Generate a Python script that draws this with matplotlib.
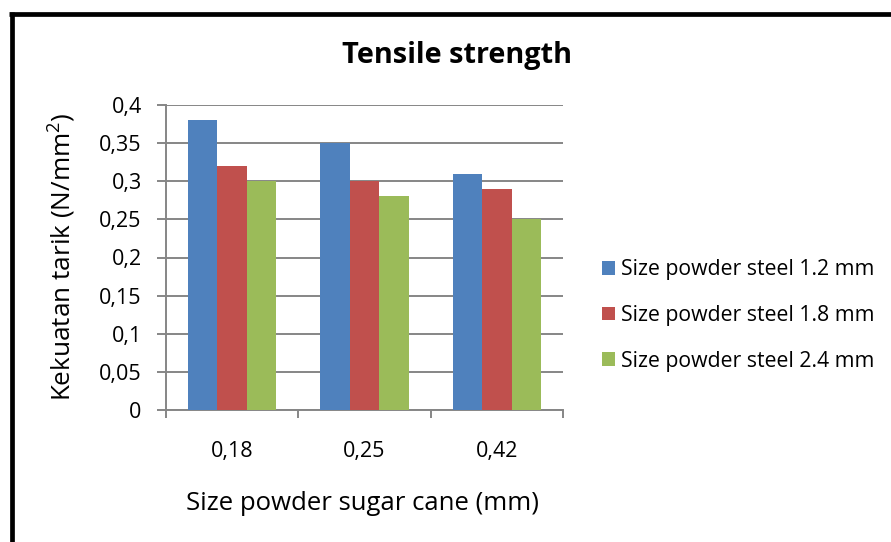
import matplotlib
matplotlib.use("Agg")
import matplotlib.pyplot as plt
import numpy as np
from matplotlib.lines import Line2D

plt.rcParams['font.family'] = ['Open Sans', 'DejaVu Sans']
plt.rcParams['mathtext.fontset'] = 'custom'
plt.rcParams['mathtext.rm'] = 'Open Sans'
plt.rcParams['mathtext.it'] = 'Open Sans:italic'

categories = ["0,18", "0,25", "0,42"]
series_names = ["Size powder steel 1.2 mm", "Size powder steel 1.8 mm", "Size powder steel 2.4 mm"]
steel_12 = [0.38, 0.35, 0.31]
steel_18 = [0.32, 0.30, 0.29]
steel_24 = [0.30, 0.28, 0.25]
y_ticks = [0, 0.05, 0.1, 0.15, 0.2, 0.25, 0.3, 0.35, 0.4]
y_tick_labels = ["0", "0,05", "0,1", "0,15", "0,2", "0,25", "0,3", "0,35", "0,4"]
colors = ["#4F81BD", "#C0504D", "#9BBB59"]

W, H = 891, 542
fig = plt.figure(figsize=(W / 100, H / 100), dpi=100)
ax = fig.add_axes([166 / W, 1 - 410 / H, (563 - 166) / W, (410 - 105) / H])

x = np.arange(len(categories))
bw = 1 / 4.5
for i, (vals, c, name) in enumerate(zip([steel_12, steel_18, steel_24], colors, series_names)):
    ax.bar(x + (i - 1) * bw, vals, width=bw, color=c, label=name, zorder=3)

ax.set_xlim(-0.5, len(categories) - 0.5)
ax.set_ylim(0, 0.4)
ax.set_yticks(y_ticks)
ax.set_yticklabels(y_tick_labels)
ax.yaxis.grid(True, color="#868686", lw=1.4, zorder=0)
ax.set_axisbelow(True)

ax.set_xticks(x)
ax.set_xticklabels(categories)
ax.set_xticks(np.arange(len(categories) + 1) - 0.5, minor=True)
ax.tick_params(axis='x', which='major', length=0, pad=22, labelsize=15.5, colors='#000000')
ax.tick_params(axis='x', which='minor', length=6, width=1.4, color="#868686", direction='out')
ax.tick_params(axis='y', length=6.5, width=1.4, color="#868686", labelsize=15.5, pad=11)

for s in ['top', 'right']:
    ax.spines[s].set_visible(False)
for s in ['left', 'bottom']:
    ax.spines[s].set_color("#868686")
    ax.spines[s].set_linewidth(1.4)

fig.text(457 / W, 1 - 63 / H, "Tensile strength", ha='center', va='baseline',
         fontsize=20.8, fontweight='bold')
fig.text(363 / W, 1 - 510 / H, "Size powder sugar cane (mm)", ha='center', va='baseline',
         fontsize=18.5)
fig.text(62 / W, 1 - 257 / H, "Kekuatan tarik (N/mm$^{2}$)", ha='center', va='center',
         fontsize=18.8, rotation=90)

leg = ax.legend(loc='center left', bbox_to_anchor=(602 / W, 1 - 315.5 / H), bbox_transform=fig.transFigure,
                frameon=False, fontsize=15.3, handlelength=0.61, handleheight=0.61,
                handletextpad=0.28, labelspacing=1.16, borderaxespad=0, borderpad=0)

# outer frame
fig.add_artist(Line2D([11.5 / W, 11.5 / W], [0, 1 - 12 / H], transform=fig.transFigure,
                      color='black', lw=3.4, solid_capstyle='butt'))
fig.add_artist(Line2D([9 / W, 1], [1 - 14 / H, 1 - 14 / H], transform=fig.transFigure,
                      color='black', lw=3.4, solid_capstyle='butt'))

fig.savefig("out.png", dpi=100)
